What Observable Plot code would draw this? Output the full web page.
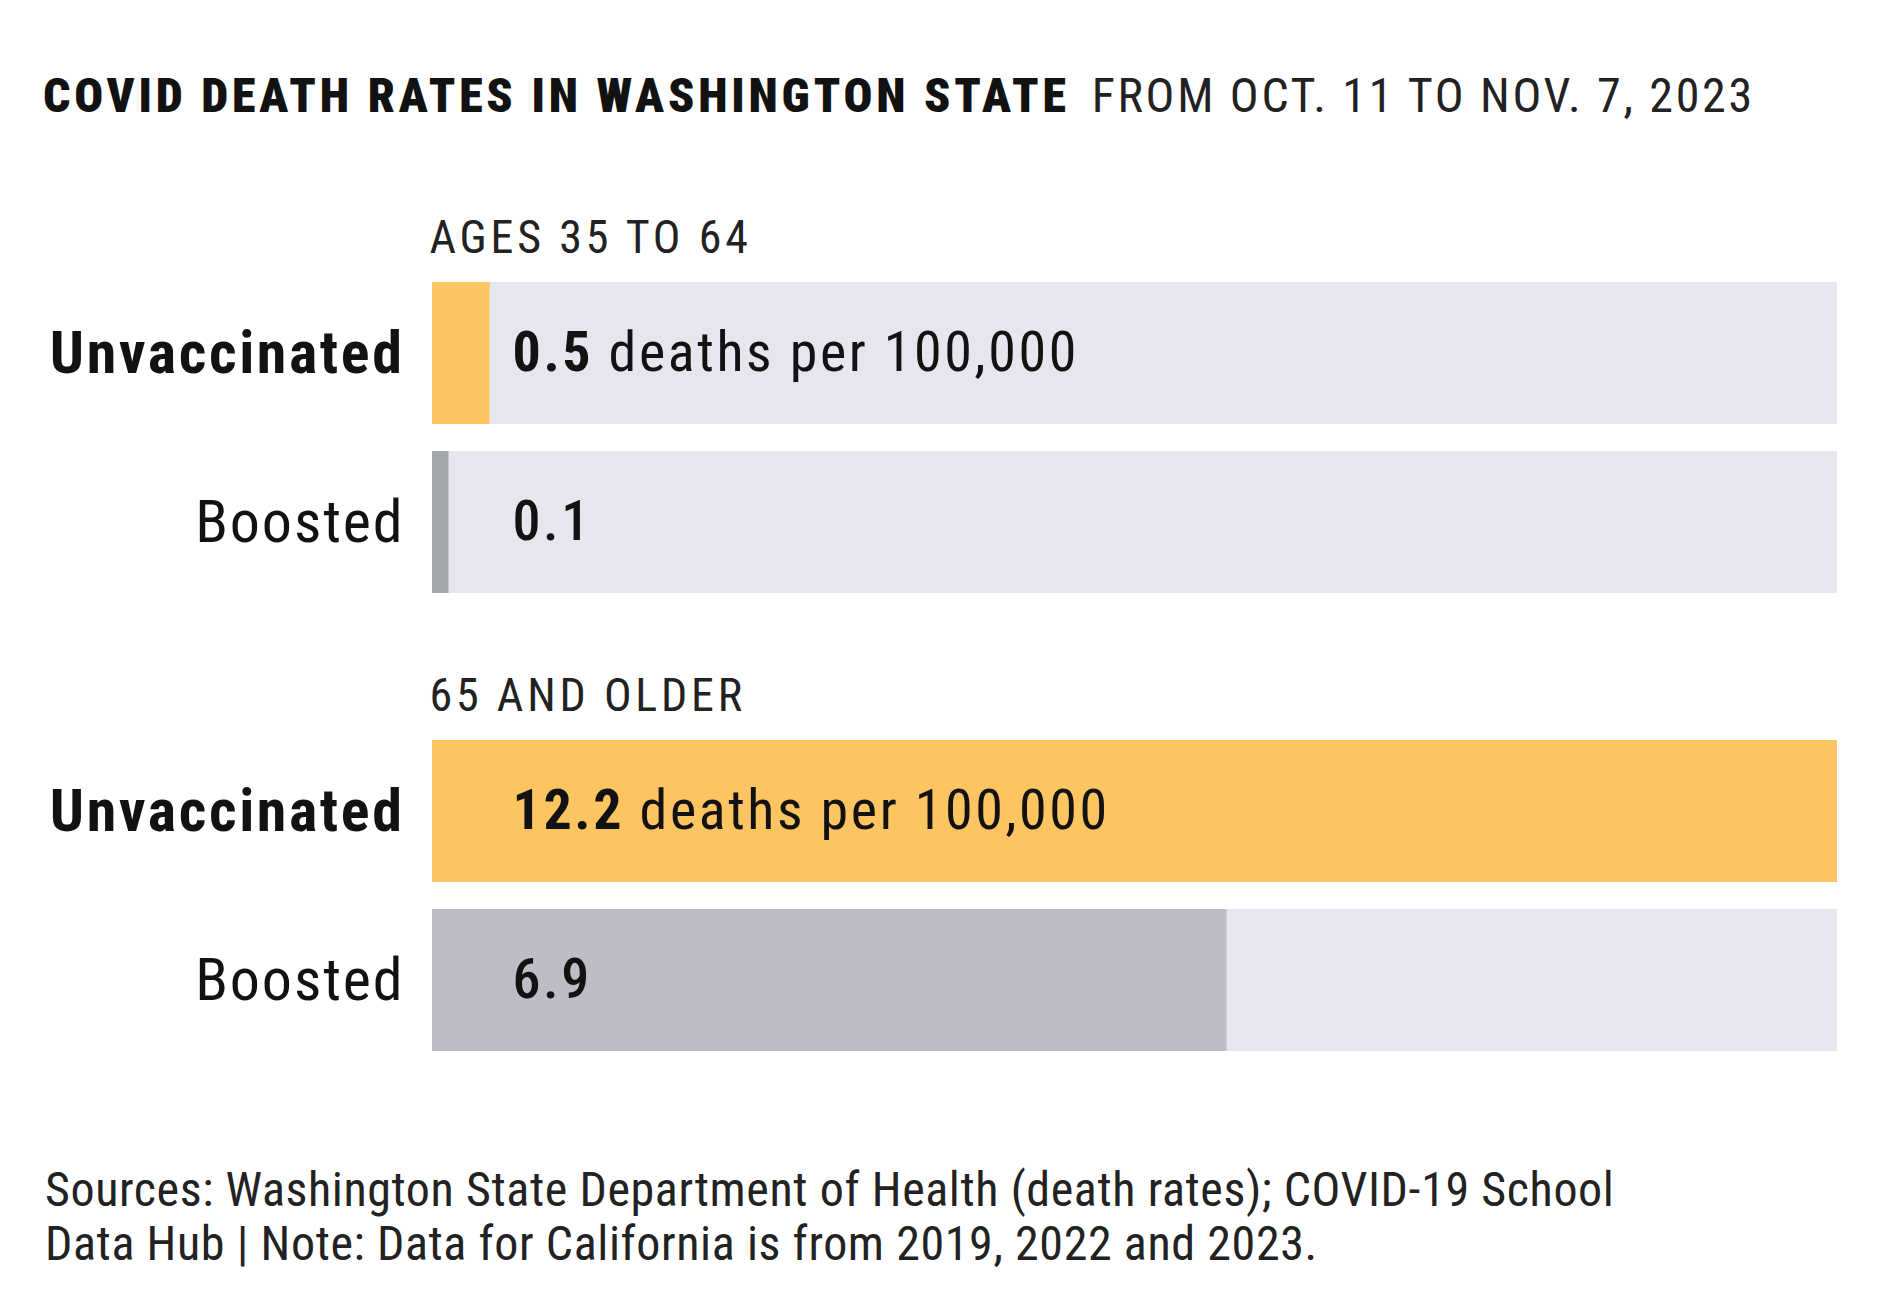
<!DOCTYPE html>
<html>
<head>
<meta charset="utf-8">
<script src="https://cdn.jsdelivr.net/npm/d3@7"></script>
<script src="https://cdn.jsdelivr.net/npm/@observablehq/plot@0.6"></script>
<style>
  body { margin: 0; background: #fff; width: 1900px; height: 1294px; overflow: hidden; position: relative;
         font-family: "Roboto Condensed", "Liberation Sans Narrow", "DejaVu Sans Condensed", sans-serif; color: #121212; }
  #title { position: absolute; left: 43px; top: 72px; font-size: 48px; line-height: 48px; white-space: nowrap; }
  #title b { font-weight: 900; letter-spacing: 3.8px; margin-right: 22px; }
  #title span { letter-spacing: 2.7px; color: #222; }
  #chart { position: absolute; left: 0; top: 160px; }
  #footer { position: absolute; left: 45px; top: 1163px; font-size: 48px; line-height: 54px; color: #222;
            letter-spacing: 0.6px; width: 1700px; }
</style>
</head>
<body>
<div id="title"><b>COVID DEATH RATES IN WASHINGTON STATE</b><span>FROM OCT. 11 TO NOV. 7, 2023</span></div>
<div id="chart"></div>
<div id="footer">Sources: Washington State Department of Health (death rates); COVID-19 School<br>Data Hub | Note: Data for California is from 2019, 2022 and 2023.</div>
<script>
const groups = ["AGES 35 TO 64", "65 AND OLDER"];
const statuses = ["Unvaccinated", "Boosted"];
const rates35to64 = [0.5, 0.1];
const rates65plus = [12.2, 6.9];
const unitLabel = " deaths per 100,000";

const rows = [];
statuses.forEach((s, i) => rows.push({group: groups[0], status: s, rate: rates35to64[i]}));
statuses.forEach((s, i) => rows.push({group: groups[1], status: s, rate: rates65plus[i]}));
const maxRate = d3.max(rows, d => d.rate);

const FONT = '"Roboto Condensed", "Liberation Sans Narrow", "DejaVu Sans Condensed", sans-serif';
const unvax = rows.filter(d => d.status === "Unvaccinated");
const boosted = rows.filter(d => d.status !== "Unvaccinated");
const tiny = d => d.rate / maxRate < 0.02;

const svg = Plot.plot({
  width: 1900,
  height: 937,
  marginLeft: 432,
  marginRight: 63,
  marginTop: 120,
  marginBottom: 45,
  style: {fontFamily: FONT, color: "#121212", background: "white"},
  x: {domain: [0, maxRate], axis: null},
  y: {domain: statuses, axis: null, paddingInner: 0.16, paddingOuter: 0},
  fy: {domain: groups, axis: null, paddingInner: 0.318, paddingOuter: 0},
  marks: [
    Plot.barX(rows, {x1: 0, x2: maxRate, y: "status", fy: "group", fill: "#E6E6EE"}),
    Plot.barX(unvax, {x: "rate", y: "status", fy: "group", fill: "#FDC462"}),
    Plot.barX(boosted.filter(d => !tiny(d)), {x: "rate", y: "status", fy: "group", fill: "#BDBDC6"}),
    Plot.barX(boosted.filter(tiny), {x: "rate", y: "status", fy: "group", fill: "#A3A7A9", insetRight: -5}),
    Plot.text(groups, {fy: d => d, text: d => d, frameAnchor: "top-left", dy: -29, dx: -3,
      lineAnchor: "bottom", textAnchor: "start", fontSize: 46, fill: "#222"}),
    Plot.text(unvax, {y: "status", fy: "group", text: "status",
      frameAnchor: "left", dx: -28, textAnchor: "end", fontSize: 60, fontWeight: 700, fill: "#121212"}),
    Plot.text(boosted, {y: "status", fy: "group", text: "status",
      frameAnchor: "left", dx: -28, textAnchor: "end", fontSize: 60, fill: "#121212"}),
    Plot.text(rows, {y: "status", fy: "group",
      text: d => d.rate.toFixed(1) + (d.status === "Unvaccinated" ? unitLabel : ""),
      frameAnchor: "left", dx: 80, textAnchor: "start", fontSize: 56, fill: "#121212"})
  ]
});

// letter spacing to approximate the original (wider) typeface; bold lead figure in value labels
d3.select(svg).selectAll("text").each(function () {
  const s = this.textContent;
  const t = d3.select(this);
  if (/^\d+\.\d/.test(s)) {
    const i = s.indexOf(" ");
    const num = i < 0 ? s : s.slice(0, i);
    const rest = i < 0 ? "" : s.slice(i);
    t.text(null).attr("letter-spacing", "2.6px");
    t.append("tspan").attr("font-weight", rest ? 700 : 500).text(num);
    if (rest) t.append("tspan").attr("font-weight", 400).text(rest);
  } else if (groups.includes(s)) {
    t.attr("letter-spacing", "3.8px");
  } else if (s === statuses[0]) {
    t.attr("letter-spacing", "2.6px");
  } else if (statuses.includes(s)) {
    t.attr("letter-spacing", "1.9px");
  }
});

document.getElementById("chart").appendChild(svg);
</script>
</body>
</html>
